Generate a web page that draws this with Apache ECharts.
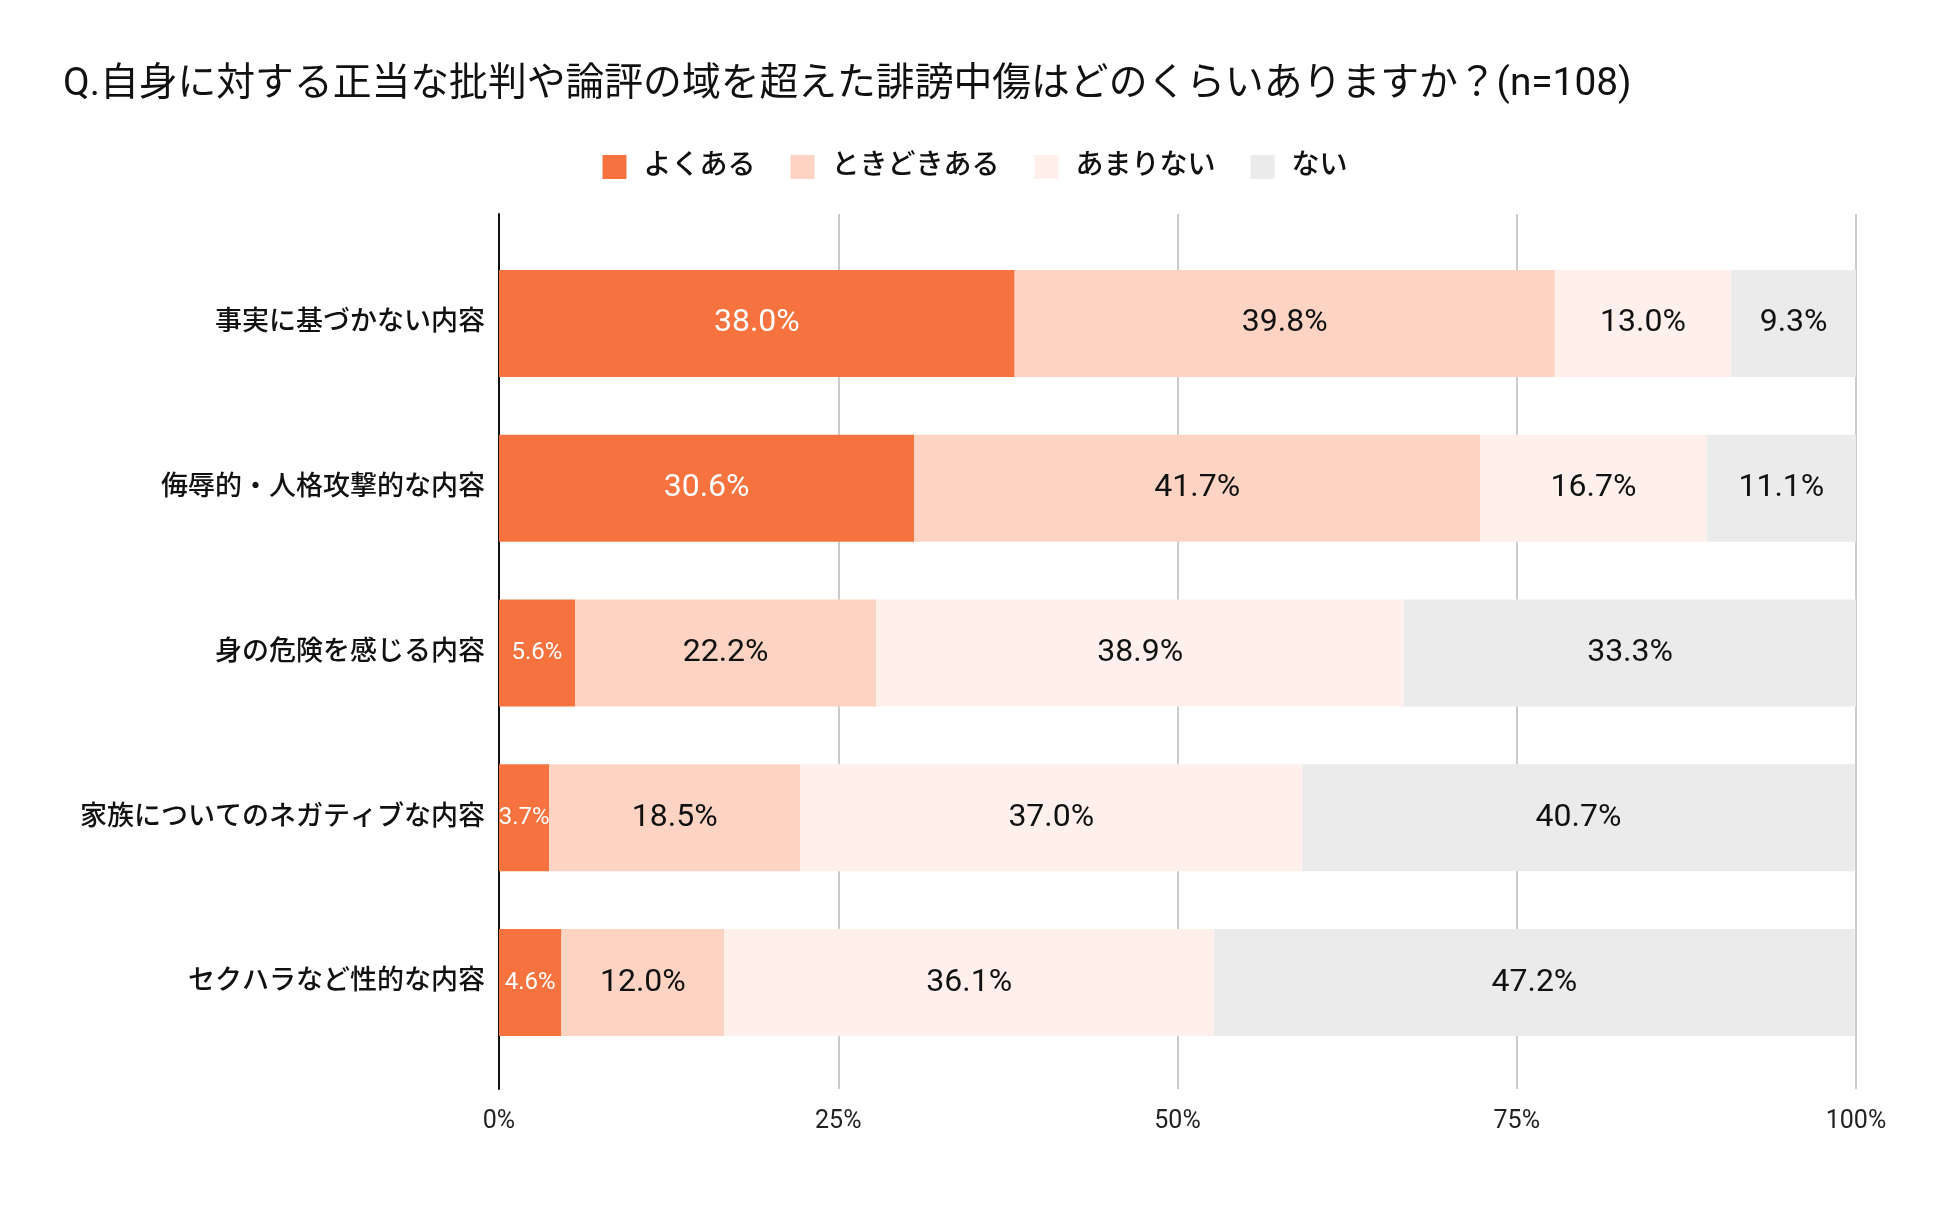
<!DOCTYPE html>
<html>
<head>
<meta charset="utf-8">
<script src="https://cdn.jsdelivr.net/npm/echarts@6/dist/echarts.min.js"></script>
<style>
  html, body { margin: 0; padding: 0; background: #fff; }
  #chart { width: 1950px; height: 1216px; }
</style>
</head>
<body>
<div id="chart"></div>
<script>
(function(){
    // data
    let categories = ['事実に基づかない内容', '侮辱的・人格攻撃的な内容', '身の危険を感じる内容', '家族についてのネガティブな内容', 'セクハラなど性的な内容'];
    let seriesNames = ['よくある', 'ときどきある', 'あまりない', 'ない'];
    let often = [38.0, 30.6, 5.6, 3.7, 4.6];
    let sometimes = [39.8, 41.7, 22.2, 18.5, 12.0];
    let rarely = [13.0, 16.7, 38.9, 37.0, 36.1];
    let never = [9.3, 11.1, 33.3, 40.7, 47.2];
    let tickValues = [0, 25, 50, 75, 100];

    let colors = ['#f6733f', '#fdd3c4', '#fff0ec', '#ebebeb'];
    let font = 'Roboto, "Noto Sans CJK JP", sans-serif';

    function makeData(values, idx){
        return values.map(function(v){
            let item = {value: v};
            if (idx === 0 && v < 8) {
                item.label = {fontSize: 24};
            }
            return item;
        });
    }

    let allValues = [often, sometimes, rarely, never];
    let series = allValues.map(function(vals, i){
        return {
            name: seriesNames[i],
            type: 'bar',
            stack: 'total',
            xAxisIndex: 1,
            yAxisIndex: 1,
            barWidth: 107,
            clip: true,
            itemStyle: {color: colors[i]},
            label: {
                show: true,
                position: 'inside',
                fontFamily: font,
                fontSize: 32,
                color: i === 0 ? '#ffffff' : '#111111',
                formatter: function(p){ return p.value.toFixed(1) + '%'; }
            },
            emphasis: {disabled: true},
            data: makeData(vals, i)
        };
    });

    let myChart = echarts.init(document.getElementById('chart'));
    let options = {
        backgroundColor: '#ffffff',
        animation: false,
        textStyle: {fontFamily: font},
        title: {
            text: 'Q.自身に対する正当な批判や論評の域を超えた誹謗中傷はどのくらいありますか？(n=108)',
            left: 58,
            top: 61,
            textStyle: {
                fontFamily: font,
                fontSize: 38.8,
                fontWeight: 'normal',
                color: '#111111'
            }
        },
        legend: {
            data: seriesNames,
            top: 148,
            left: 'center',
            icon: 'rect',
            itemWidth: 24,
            itemHeight: 24,
            itemGap: 35,
            textStyle: {fontFamily: font, fontSize: 28, fontWeight: 500, color: '#111111', padding: [0, 0, 0, 12]}
        },
        grid: [
            {left: 499, right: 94, top: 214, bottom: 127},
            {left: 499, right: 94, top: 241, bottom: 151}
        ],
        xAxis: [{
            gridIndex: 0,
            type: 'value',
            min: tickValues[0],
            max: tickValues[tickValues.length - 1],
            interval: 25,
            axisLine: {show: false},
            axisTick: {show: false},
            splitLine: {show: true, lineStyle: {color: '#cccccc', width: 2}},
            axisLabel: {
                fontFamily: font,
                fontSize: 25,
                color: '#222222',
                margin: 20,
                formatter: '{value}%'
            }
        }, {
            gridIndex: 1,
            type: 'value',
            min: 0,
            max: 100,
            show: false
        }],
        yAxis: [{
            gridIndex: 0,
            type: 'value',
            axisLine: {show: true, lineStyle: {color: '#111111', width: 2}},
            axisTick: {show: false},
            axisLabel: {show: false},
            splitLine: {show: false}
        }, {
            gridIndex: 1,
            type: 'category',
            inverse: true,
            data: categories,
            axisLine: {show: false},
            axisTick: {show: false},
            axisLabel: {
                fontFamily: font,
                fontSize: 27,
                fontWeight: 500,
                color: '#111111',
                margin: 14
            }
        }],
        series: series
    };
    myChart.setOption(options);
})();
</script>
</body>
</html>
